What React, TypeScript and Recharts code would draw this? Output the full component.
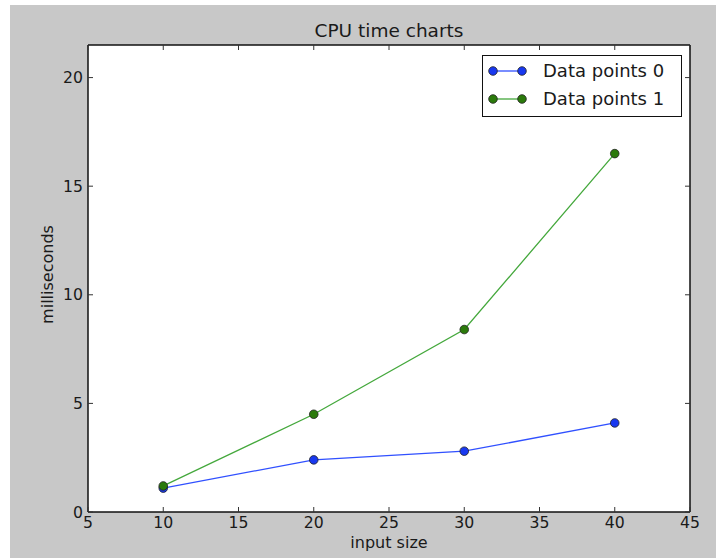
import React from 'react';
import { LineChart, Line, XAxis, YAxis, Legend } from 'recharts';

const inputSizes = [10, 20, 30, 40];
const series0 = [1.1, 2.4, 2.8, 4.1];
const series1 = [1.2, 4.5, 8.4, 16.5];
const seriesNames = ['Data points 0', 'Data points 1'];
const xTicks = [5, 10, 15, 20, 25, 30, 35, 40, 45];
const yTicks = [0, 5, 10, 15, 20];
const chartTitle = 'CPU time charts';
const xLabel = 'input size';
const yLabel = 'milliseconds';

const data = inputSizes.map((x, i) => ({ x, s0: series0[i], s1: series1[i] }));

const FONT = '"DejaVu Sans", sans-serif';
const TEXT = '#1a1a1a';
const TICK = '#333';
const FRAME = '#111';

const lineColors = ['#3050ff', '#44a83c'];
const dotColors = ['#1838f0', '#2b7a0b'];

const BottomTick = (props: any) => {
  const { x, y, payload } = props;
  return (
    <g>
      <line x1={x} y1={y} x2={x} y2={y - 5} stroke={TICK} strokeWidth={1} />
      <text x={x} y={y + 16} textAnchor="middle" fontSize={15.7} fill={TEXT} fontFamily={FONT}>
        {payload.value}
      </text>
    </g>
  );
};

const TopTick = (props: any) => {
  const { x, y } = props;
  return <line x1={x} y1={y} x2={x} y2={y + 5} stroke={TICK} strokeWidth={1} />;
};

const LeftTick = (props: any) => {
  const { x, y, payload } = props;
  return (
    <g>
      <line x1={x} y1={y} x2={x + 5} y2={y} stroke={TICK} strokeWidth={1} />
      <text x={x - 5} y={y} dy="0.36em" textAnchor="end" fontSize={15.7} fill={TEXT} fontFamily={FONT}>
        {payload.value}
      </text>
    </g>
  );
};

const RightTick = (props: any) => {
  const { x, y } = props;
  return <line x1={x} y1={y} x2={x - 5} y2={y} stroke={TICK} strokeWidth={1} />;
};

const renderLegend = (props: any) => {
  const { payload } = props;
  const items = (payload || []).filter((p: any) => p.type !== 'none');
  return (
    <svg width={200} height={62} style={{ display: 'block' }}>
      <rect x={0.5} y={0.5} width={199} height={61} fill="#fff" stroke={FRAME} strokeWidth={1} />
      {items.map((p: any, i: number) => {
        const cy = 16 + i * 28;
        const idx = seriesNames.indexOf(p.value);
        return (
          <g key={i}>
            <line x1={11} y1={cy} x2={40} y2={cy} stroke={lineColors[idx]} strokeWidth={1.3} />
            <circle cx={11} cy={cy} r={4.3} fill={dotColors[idx]} stroke="#222" strokeWidth={0.8} />
            <circle cx={40} cy={cy} r={4.3} fill={dotColors[idx]} stroke="#222" strokeWidth={0.8} />
            <text x={61} y={cy} dy="0.36em" fontSize={18} fill={TEXT} fontFamily={FONT}>
              {p.value}
            </text>
          </g>
        );
      })}
    </svg>
  );
};

const TitleLabel = (props: any) => {
  const vb = props.viewBox || {};
  return (
    <text x={vb.x + vb.width / 2} y={vb.y + vb.height - 8} textAnchor="middle" fontSize={18.5} fill={TEXT} fontFamily={FONT}>
      {chartTitle}
    </text>
  );
};

const XAxisLabel = (props: any) => {
  const vb = props.viewBox || {};
  return (
    <text x={vb.x + vb.width / 2} y={vb.y + 36} textAnchor="middle" fontSize={16} fill={TEXT} fontFamily={FONT}>
      {xLabel}
    </text>
  );
};

const YAxisLabel = (props: any) => {
  const vb = props.viewBox || {};
  const cx = 43;
  const cy = vb.y + vb.height / 2 - 4;
  return (
    <text
      x={cx}
      y={cy}
      transform={`rotate(-90, ${cx}, ${cy})`}
      textAnchor="middle"
      fontSize={16}
      fill={TEXT}
      fontFamily={FONT}
    >
      {yLabel}
    </text>
  );
};

export default function App() {
  return (
    <div style={{ position: 'absolute', left: 0, top: 0, width: 716, height: 558, background: '#fff' }}>
      <div style={{ position: 'absolute', left: 10, top: 5, width: 706, height: 553, background: '#c8c8c8' }}>
        <LineChart
          width={706}
          height={553}
          data={data}
          margin={{ top: 39, right: 25, bottom: 0, left: 0 }}
          style={{ fontFamily: FONT }}
        >
          <rect x={78} y={40} width={602} height={467} fill="#fff" />
          <XAxis
            dataKey="x"
            type="number"
            domain={[5, 45]}
            ticks={xTicks}
            interval={0}
            height={46}
            tickSize={0}
            tickMargin={0}
            tick={<BottomTick />}
            axisLine={{ stroke: FRAME, strokeWidth: 1.5 }}
            tickLine={false}
            label={XAxisLabel}
            allowDataOverflow
          />
          <XAxis
            xAxisId="top"
            orientation="top"
            dataKey="x"
            type="number"
            domain={[5, 45]}
            ticks={xTicks}
            interval={0}
            height={1}
            tickSize={0}
            tickMargin={0}
            tick={<TopTick />}
            axisLine={{ stroke: FRAME, strokeWidth: 1.5 }}
            tickLine={false}
            label={TitleLabel}
            allowDataOverflow
          />
          <YAxis
            type="number"
            domain={[0, 21.5]}
            ticks={yTicks}
            interval={0}
            width={78}
            tickSize={0}
            tickMargin={0}
            tick={<LeftTick />}
            axisLine={{ stroke: FRAME, strokeWidth: 1.5 }}
            tickLine={false}
            label={YAxisLabel}
            allowDataOverflow
          />
          <YAxis
            yAxisId="right"
            orientation="right"
            type="number"
            domain={[0, 21.5]}
            ticks={yTicks}
            interval={0}
            width={1}
            tickSize={0}
            tickMargin={0}
            tick={<RightTick />}
            axisLine={{ stroke: FRAME, strokeWidth: 1.5 }}
            tickLine={false}
            allowDataOverflow
          />
          <Line
            dataKey="s0"
            name={seriesNames[0]}
            stroke={lineColors[0]}
            strokeWidth={1.3}
            dot={{ r: 4.3, fill: dotColors[0], stroke: '#222', strokeWidth: 0.8 }}
            activeDot={false}
            isAnimationActive={false}
          />
          <Line
            dataKey="s1"
            name={seriesNames[1]}
            stroke={lineColors[1]}
            strokeWidth={1.3}
            dot={{ r: 4.3, fill: dotColors[1], stroke: '#222', strokeWidth: 0.8 }}
            activeDot={false}
            isAnimationActive={false}
          />
          <Legend
            layout="horizontal"
            verticalAlign="middle"
            align="center"
            content={renderLegend}
            wrapperStyle={{ position: 'absolute', left: 472, top: 50, width: 200, height: 62 }}
          />
        </LineChart>
      </div>
    </div>
  );
}
